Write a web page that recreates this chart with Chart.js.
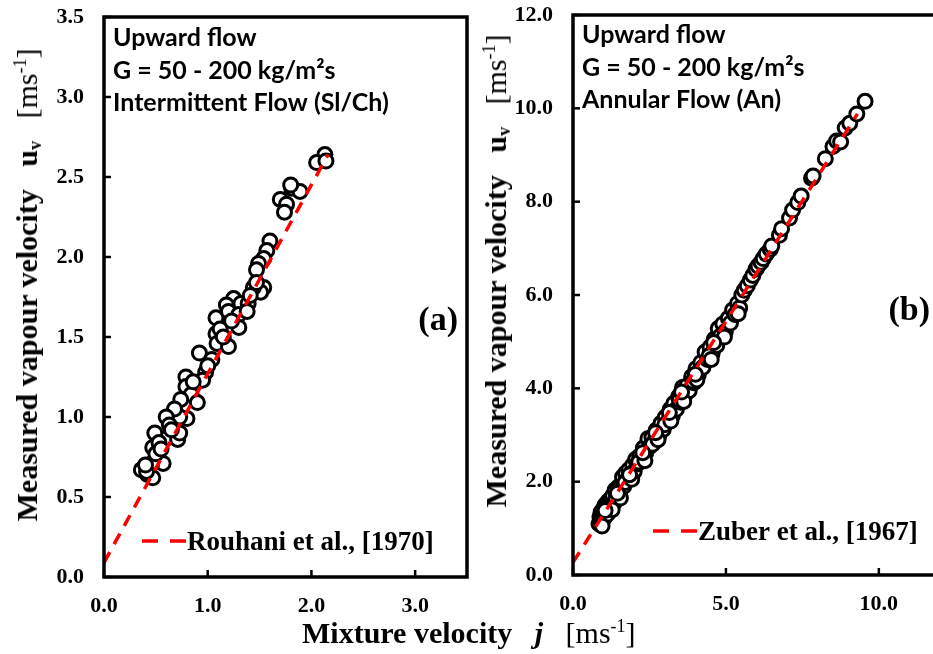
<!DOCTYPE html>
<html>
<head>
<meta charset="utf-8">
<script src="https://cdn.jsdelivr.net/npm/chart.js@4.4.1/dist/chart.umd.min.js"></script>
<style>
  html, body { margin: 0; padding: 0; background: #fff; overflow: hidden; }
  #wrap { position: relative; width: 933px; height: 654px; overflow: hidden; }
  canvas { position: absolute; top: 0; }
  .ttl { position: absolute; white-space: nowrap; font-family: "Liberation Serif", serif; font-size: 30px; color: #000; line-height: 1; }
  .ytl { transform: translate(-50%, -50%) rotate(-90deg); }
  .ttl b { font-weight: bold; }
  .ttl sub { font-size: 60%; vertical-align: -0.2em; line-height: 0; }
  .ttl sup { font-size: 60%; vertical-align: 0.6em; line-height: 0; }
</style>
</head>
<body>
<div id="wrap">
  <canvas id="chartA" width="477" height="654" style="left:0"></canvas>
  <canvas id="chartB" width="480" height="654" style="left:470px"></canvas>
  <div class="ttl ytl" style="left:27px; top:285px"><b>Measured vapour velocity</b>&nbsp;&nbsp;&nbsp;<b>u<sub>v</sub></b>&nbsp;&nbsp;&nbsp;[ms<sup>-1</sup>]</div>
  <div class="ttl ytl" style="left:496px; top:271px"><b>Measured vapour velocity</b>&nbsp;&nbsp;&nbsp;<b>u<sub>v</sub></b>&nbsp;&nbsp;&nbsp;[ms<sup>-1</sup>]</div>
  <div class="ttl" style="left:302px; top:618px"><b>Mixture velocity</b>&nbsp;&nbsp;&nbsp;<b><i>j</i></b>&nbsp;&nbsp;&nbsp;[ms<sup>-1</sup>]</div>
</div>
<script>
// --- Panel (a): intermittent flow ---
const aJ = [2.13, 2.05, 2.14, 1.81, 1.89, 1.70, 1.76, 1.74, 1.80,
  1.60, 1.57, 1.54, 1.49, 1.47, 1.54, 1.51, 1.44, 1.47,
  1.25, 1.32, 1.39, 1.18, 1.08, 1.20, 1.30, 1.38,
  1.08, 1.09, 1.20, 1.30, 0.92, 1.04, 0.98, 0.95,
  0.79, 0.79, 0.84, 0.90, 0.74, 0.80, 0.73, 0.68,
  0.60, 0.61, 0.71, 0.73, 0.49, 0.47, 0.53, 0.57,
  0.46, 0.36, 0.42, 0.47, 0.41, 0.63, 0.50,
  1.12, 1.15, 0.86, 0.65, 1.00, 0.55, 1.23, 1.41, 0.40];
const aU = [2.64, 2.59, 2.60, 2.43, 2.41, 2.36, 2.33, 2.28, 2.45,
  2.10, 2.04, 1.99, 1.96, 1.92, 1.81, 1.78, 1.81, 1.84,
  1.74, 1.71, 1.71, 1.70, 1.62, 1.66, 1.64, 1.66,
  1.52, 1.46, 1.44, 1.56, 1.40, 1.36, 1.28, 1.23,
  1.25, 1.19, 1.14, 1.09, 1.11, 0.99, 1.00, 1.05,
  1.00, 0.87, 0.86, 0.90, 0.90, 0.81, 0.84, 0.71,
  0.71, 0.67, 0.64, 0.62, 0.66, 0.95, 0.77,
  1.55, 1.50, 1.22, 0.92, 1.32, 0.80, 1.60, 1.76, 0.70];
const aFitJ = [0, 2.16];
const aFitU = [0.09, 2.64];
const aXTicks = [0, 1, 2, 3];
const aYTicks = [0, 0.5, 1, 1.5, 2, 2.5, 3, 3.5];

// --- Panel (b): annular flow ---
const bJ = [0.85, 0.88, 0.90, 0.92, 0.95, 0.97, 1.00, 1.02, 1.05, 1.08, 1.10, 1.15, 1.18, 1.22, 1.25,
  1.30, 1.35, 1.38, 1.42, 1.48, 1.52, 1.58, 1.62, 1.66, 1.72, 1.78, 1.82, 1.88, 1.95, 2.00,
  2.05, 2.10, 2.18, 2.25, 2.30, 2.38, 2.45, 2.50, 2.58, 2.65, 2.72, 2.80, 2.88, 2.95, 3.02,
  3.10, 3.18, 3.25, 3.30, 3.38, 3.45, 3.52, 3.58, 3.65, 3.72, 3.80, 3.88, 3.95, 4.02, 4.10,
  4.18, 4.25, 4.32, 4.40, 4.48, 4.55, 4.62, 4.70, 4.75, 4.82, 4.90, 4.98, 5.08, 5.15, 5.22,
  5.30, 5.38, 5.45, 5.52, 5.60, 5.70, 5.80, 5.88, 5.98, 6.05, 6.15, 6.22, 6.32, 6.45, 6.50,
  6.75, 6.82, 7.08, 7.18, 7.35, 7.46, 7.80, 7.85, 8.25, 8.50, 8.62, 8.75, 8.90, 9.05, 9.28, 9.55,
  1.12, 1.40, 1.70, 2.15, 2.60, 3.00, 3.48, 3.92, 4.45,
  0.95, 1.28, 1.55, 1.92, 2.35, 2.78, 3.20, 3.62, 4.05, 4.52, 4.95, 5.40,
  1.05, 1.45, 1.85, 2.28, 2.70, 3.15, 3.55, 4.00, 4.60];
const bU = [1.10, 1.25, 1.18, 1.35, 1.15, 1.28, 1.42, 1.22, 1.50, 1.33, 1.45, 1.58, 1.40, 1.62, 1.52,
  1.70, 1.55, 1.82, 1.68, 1.88, 1.74, 1.95, 2.10, 1.90, 2.18, 2.05, 2.25, 2.12, 2.35, 2.22,
  2.48, 2.38, 2.55, 2.45, 2.72, 2.62, 2.92, 2.75, 2.95, 2.85, 3.10, 2.98, 3.25, 3.12, 3.38,
  3.28, 3.55, 3.42, 3.68, 3.55, 3.82, 3.70, 4.02, 3.85, 4.05, 3.95, 4.25, 4.12, 4.42, 4.30,
  4.55, 4.45, 4.78, 4.62, 4.88, 4.75, 5.05, 4.92, 5.28, 5.12, 5.38, 5.22, 5.50, 5.40, 5.68,
  5.58, 5.82, 5.72, 6.00, 6.10, 6.20, 6.32, 6.42, 6.55, 6.62, 6.70, 6.78, 6.88, 6.98, 7.05,
  7.28, 7.42, 7.65, 7.82, 7.98, 8.12, 8.50, 8.55, 8.92, 9.18, 9.30, 9.28, 9.58, 9.68, 9.88, 10.15,
  1.30, 1.62, 1.98, 2.42, 2.80, 3.22, 3.75, 4.15, 4.70,
  1.05, 1.40, 1.65, 2.05, 2.45, 2.90, 3.30, 3.72, 4.18, 4.62, 5.10, 5.60,
  1.38, 1.75, 2.15, 2.62, 3.05, 3.48, 3.92, 4.30, 4.98];
const bFitJ = [0, 9.3];
const bFitU = [0.27, 9.88];
const bXTicks = [0, 5, 10];
const bYTicks = [0, 2, 4, 6, 8, 10, 12];

const SERIF = '"Liberation Serif", "Times New Roman", serif';
const SANS = 'Lato, "Open Sans", sans-serif';
const DASH = [12, 9];

// box, inner tick marks, notes, panel letter and legend
const panelDecor = {
  id: 'panelDecor',
  afterDatasetsDraw(chart, args, o) {
    const ctx = chart.ctx;
    const a = chart.chartArea;
    const xs = chart.scales.x, ys = chart.scales.y;
    ctx.save();
    ctx.strokeStyle = '#000';
    ctx.lineWidth = 2.5;
    ys.ticks.forEach(t => {
      const p = ys.getPixelForValue(t.value);
      ctx.beginPath(); ctx.moveTo(a.left, p); ctx.lineTo(a.left + 7, p); ctx.stroke();
    });
    xs.ticks.forEach(t => {
      const p = xs.getPixelForValue(t.value);
      ctx.beginPath(); ctx.moveTo(p, a.bottom); ctx.lineTo(p, a.bottom - 7); ctx.stroke();
    });
    ctx.lineWidth = 3.5;
    ctx.strokeRect(a.left, a.top, a.right - a.left, a.bottom - a.top);

    ctx.fillStyle = '#000';
    ctx.textBaseline = 'alphabetic';
    ctx.textAlign = 'left';
    ctx.font = 'bold 25px ' + SANS;
    o.notes.forEach((line, i) => ctx.fillText(line, a.left + 9, o.noteY + i * 32.5));

    ctx.font = 'bold 34px ' + SERIF;
    ctx.textAlign = 'right';
    ctx.fillText(o.letter, o.letterX, o.letterY);

    // legend
    ctx.strokeStyle = '#ff0000';
    ctx.lineWidth = 3.5;
    ctx.setLineDash([16, 12]);
    ctx.beginPath(); ctx.moveTo(o.legX, o.legY); ctx.lineTo(o.legX + 44, o.legY); ctx.stroke();
    ctx.setLineDash([]);
    ctx.font = 'bold 27px ' + SERIF;
    ctx.textAlign = 'left';
    ctx.fillText(o.legText, o.legX + 45, o.legY + 9);
    ctx.restore();
  }
};

function points(xs, ys) { return xs.map((x, i) => ({ x: x, y: ys[i] })); }

function noPad(s) { s.paddingTop = 0; s.paddingBottom = 0; s.paddingLeft = 0; s.paddingRight = 0; }

function makePanel(id, cfg) {
  const tickFont = { family: SERIF, size: 22, weight: 'bold' };
  return new Chart(document.getElementById(id), {
    data: {
      datasets: [
        { type: 'line', data: points(cfg.fitJ, cfg.fitU), borderColor: '#ff0000', borderWidth: 3.5,
          borderDash: DASH, pointRadius: 0, fill: false, order: 0 },
        { type: 'scatter', data: points(cfg.j, cfg.u), pointRadius: 7, borderWidth: 3,
          borderColor: '#000', backgroundColor: '#fff', order: 1 }
      ]
    },
    options: {
      responsive: false, animation: false,
      layout: { padding: cfg.pad },
      plugins: { legend: { display: false }, tooltip: { enabled: false }, panelDecor: cfg.decor },
      scales: {
        x: {
          type: 'linear', min: 0, max: cfg.xMax,
          grid: { display: false, drawTicks: false }, border: { display: false },
          afterBuildTicks: s => { s.ticks = cfg.xTicks.map(v => ({ value: v })); },
          afterFit: s => { s.height = 40; noPad(s); },
          ticks: { font: tickFont, color: '#000', padding: 16, maxRotation: 0, callback: v => v.toFixed(1) }
        },
        y: {
          type: 'linear', min: 0, max: cfg.yMax,
          grid: { display: false, drawTicks: false }, border: { display: false },
          afterBuildTicks: s => { s.ticks = cfg.yTicks.map(v => ({ value: v })); },
          afterFit: s => { s.width = 60; noPad(s); },
          ticks: { font: tickFont, color: '#000', padding: 20, callback: v => v.toFixed(1) }
        }
      }
    },
    plugins: [panelDecor]
  });
}

makePanel('chartA', {
  j: aJ, u: aU, fitJ: aFitJ, fitU: aFitU, xTicks: aXTicks, yTicks: aYTicks, xMax: 3.5, yMax: 3.5,
  pad: { left: 44, top: 17, right: 10, bottom: 37 },
  decor: { notes: ['Upward flow', 'G = 50 - 200 kg/m\u00b2s', 'Intermittent Flow (Sl/Ch)'], noteY: 46,
    letter: '(a)', letterX: 458, letterY: 330, legX: 142, legY: 541, legText: 'Rouhani et al., [1970]' }
});

makePanel('chartB', {
  j: bJ, u: bU, fitJ: bFitJ, fitU: bFitU, xTicks: bXTicks, yTicks: bYTicks, xMax: 12, yMax: 12,
  pad: { left: 43, top: 15, right: 10, bottom: 39 },
  decor: { notes: ['Upward flow', 'G = 50 - 200 kg/m\u00b2s', 'Annular Flow (An)'], noteY: 43,
    letter: '(b)', letterX: 460, letterY: 320, legX: 183, legY: 531, legText: 'Zuber et al., [1967]' }
});
</script>
</body>
</html>
